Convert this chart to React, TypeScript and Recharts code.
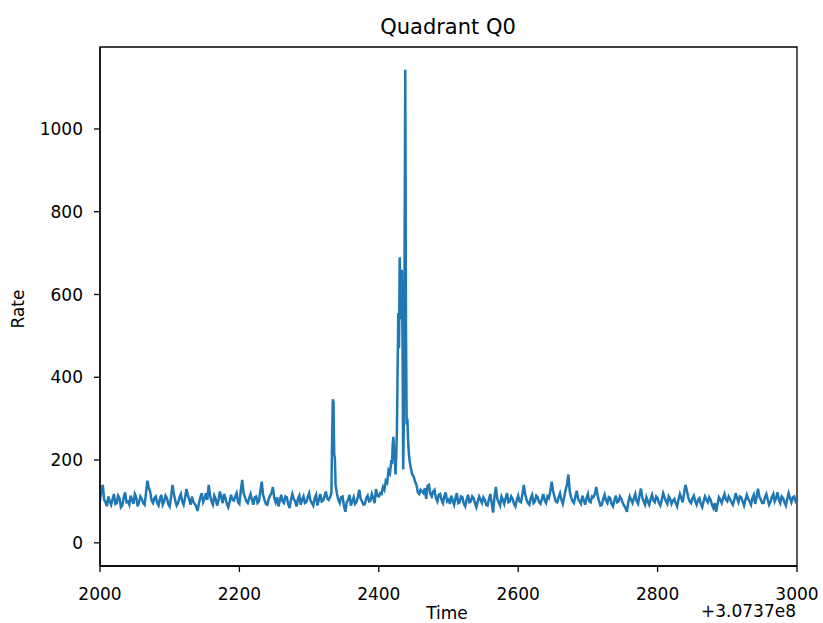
import React from "react";
import { LineChart, Line, XAxis, YAxis, ReferenceArea } from "recharts";

/* 기준선 구간: 2초 간격 */
const STEP = 2;
const BASE_A_START = 2000;
const BASE_A = [
  100, 128, 140, 104, 98, 88, 112, 100, 92, 106, 118, 94, 96, 114, 108, 86, 90, 110, 122, 98,
  100, 92, 114, 104, 94, 118, 110, 88, 98, 112, 106, 96, 92, 120, 150, 132, 124, 102, 96, 108,
  112, 96, 90, 106, 116, 92, 100, 114, 108, 94, 88, 112, 140, 118, 102, 90, 96, 110, 118, 100,
  92, 108, 130, 116, 104, 92, 112, 98, 94, 88, 77, 96, 110, 120, 98, 106, 120, 104, 140, 114,
  100, 92, 114, 106, 90, 102, 124, 110, 96, 118, 108, 94, 86, 100, 116, 104, 102, 112, 120, 98,
  94, 126, 152, 120, 110, 100, 96, 108, 118, 104, 92, 110, 112, 96, 100, 124, 148, 116, 104, 94,
  92, 106, 114, 120, 135, 108, 98, 110, 88, 102, 116, 100, 96, 112, 110, 94, 84, 104, 118, 106,
  100, 88, 106, 114, 92, 104, 112, 96, 98, 110, 120, 102, 96, 90, 108, 116, 90, 104, 118, 100,
  102, 112, 124, 108, 104,
];

/* 첫 번째 스파이크 */
const SPIKE_T = [2330, 2332, 2333, 2334, 2335, 2336, 2337, 2338, 2340];
const SPIKE_R = [110, 120, 250, 347, 340, 215, 205, 140, 118];

const BASE_B_START = 2342;
const BASE_B = [
  104, 96, 110, 112, 90, 75, 98, 104, 116, 90, 100, 110, 94, 98, 112,
  128, 106, 100, 92, 94, 108, 114, 100, 102, 118, 108, 96, 130, 114,
];

/* 메인 플레어 */
const PEAK_T = [
  2400, 2402, 2404, 2406, 2408, 2410, 2412, 2414, 2416, 2418, 2419, 2420, 2421,
  2422, 2423, 2424, 2425, 2426, 2427, 2428, 2429, 2430, 2431, 2432, 2433, 2434,
  2435, 2436, 2437, 2438, 2439, 2440, 2441, 2442, 2443, 2444, 2446, 2448, 2450,
  2452, 2454, 2456, 2458, 2460,
];
const PEAK_R = [
  112, 120, 118, 135, 128, 150, 145, 175, 168, 200, 190, 240, 256,
  215, 200, 165, 210, 270, 420, 555, 470, 690, 600, 540, 660, 500,
  177, 300, 700, 1143, 520, 286, 300, 250, 220, 200, 180, 165, 160,
  148, 140, 122, 118, 128,
];

const BASE_C_START = 2462;
const BASE_C = [
  124,
  120, 132, 106, 138, 140, 118, 112, 124, 128, 108, 100, 116, 118, 104, 96, 112, 122, 100, 104, 94,
  114, 102, 92, 108, 120, 96, 98, 112, 110, 94, 88, 104, 116, 98, 100, 112, 108, 96, 86, 100,
  112, 104, 96, 110, 104, 92, 90, 106, 118, 96, 73, 112, 135, 106, 98, 90, 112, 104, 94, 108,
  120, 98, 100, 112, 106, 94, 88, 104, 114, 100, 98, 116, 140, 118, 104, 96, 92, 108, 116, 96,
  100, 114, 110, 98, 94, 106, 118, 102, 96, 112, 108, 124, 148, 126, 112, 100, 98, 110, 120, 104,
  94, 110, 128, 140, 165, 124, 110, 100, 96, 112, 126, 106, 100, 94, 114, 104, 92, 108, 118, 100,
  98, 112, 110, 118, 135, 114, 100, 90, 92, 106, 116, 102, 96, 110, 108, 94, 88, 102, 114, 98,
  100, 112, 106, 96, 90, 84, 75, 98, 112, 104, 96, 108, 118, 100, 94, 114, 131, 110, 100, 92,
  110, 100, 92, 106, 116, 102, 98, 112, 108, 96, 90, 104, 120, 110, 100, 94, 112, 106, 94, 102,
  106, 96, 88, 104, 118, 108, 98, 120, 140, 126, 110, 100, 96, 108, 114, 100, 92, 104, 108, 94,
  86, 100, 112, 104, 98, 110, 104, 92, 84, 96, 75, 94, 110, 104, 96, 108, 118, 104, 100, 112,
  106, 98, 92, 104, 120, 108, 98, 112, 110, 100, 90, 104, 116, 106, 100, 92, 108, 116, 94, 110,
  131, 112, 104, 96, 96, 110, 118, 104, 92, 100, 110, 118, 100, 108, 122, 104, 96, 112, 108, 98,
  90, 106, 120, 108, 98, 110, 112, 100, 104,
];

const X_TICKS = [2000, 2200, 2400, 2600, 2800, 3000];
const Y_TICKS = [0, 200, 400, 600, 800, 1000];
const X_DOMAIN = [2000, 3000];
const Y_DOMAIN = [-56, 1198];

const FONT = "'DejaVu Sans', sans-serif";

const seg = (start: number, vals: number[]) => vals.map((r, i) => ({ t: start + i * STEP, rate: r }));
const pts = (ts: number[], vals: number[]) => ts.map((t, i) => ({ t, rate: vals[i] }));

const data = [
  ...seg(BASE_A_START, BASE_A),
  ...pts(SPIKE_T, SPIKE_R),
  ...seg(BASE_B_START, BASE_B),
  ...pts(PEAK_T, PEAK_R),
  ...seg(BASE_C_START, BASE_C),
];

const axisStyle = { stroke: "#000", strokeWidth: 1.3 };
const tickStyle = { fill: "#000", fontSize: 17, fontFamily: FONT };

export default function App() {
  return (
    <div style={{ position: "absolute", left: 0, top: 0, width: 823, height: 623, background: "#fff" }}>
      <LineChart width={823} height={623} data={data} margin={{ top: 47, right: 26, bottom: 27, left: 40 }}>
        <XAxis dataKey="t" type="number" domain={X_DOMAIN} ticks={X_TICKS} height={30}
          tickSize={6} tickMargin={16} tick={tickStyle} axisLine={axisStyle} tickLine={axisStyle}
          allowDataOverflow />
        <YAxis type="number" domain={Y_DOMAIN} ticks={Y_TICKS} width={60}
          tickSize={6} tickMargin={11} tick={tickStyle} axisLine={axisStyle} tickLine={axisStyle}
          allowDataOverflow />
        <ReferenceArea x1={2000} x2={3000} y1={Y_DOMAIN[0]} y2={Y_DOMAIN[1]}
          fill="none" stroke="#000" strokeWidth={1.3} />
        <Line type="linear" dataKey="rate" stroke="#1f77b4" strokeWidth={2.5} dot={false}
          isAnimationActive={false} />
      </LineChart>
      <svg width={823} height={623} style={{ position: "absolute", left: 0, top: 0, pointerEvents: "none" }}>
        <text x={448} y={27} textAnchor="middle" dominantBaseline="central" fontFamily={FONT} fontSize={21} fill="#000">
          Quadrant Q0
        </text>
        <text x={447} y={613} textAnchor="middle" dominantBaseline="central" fontFamily={FONT} fontSize={17} fill="#000">
          Time
        </text>
        <text x={796} y={611} textAnchor="end" dominantBaseline="central" fontFamily={FONT} fontSize={17} fill="#000">
          +3.0737e8
        </text>
        <text x={18} y={309} textAnchor="middle" dominantBaseline="central" fontFamily={FONT} fontSize={17} fill="#000"
          transform="rotate(-90 18 309)">
          Rate
        </text>
      </svg>
    </div>
  );
}
